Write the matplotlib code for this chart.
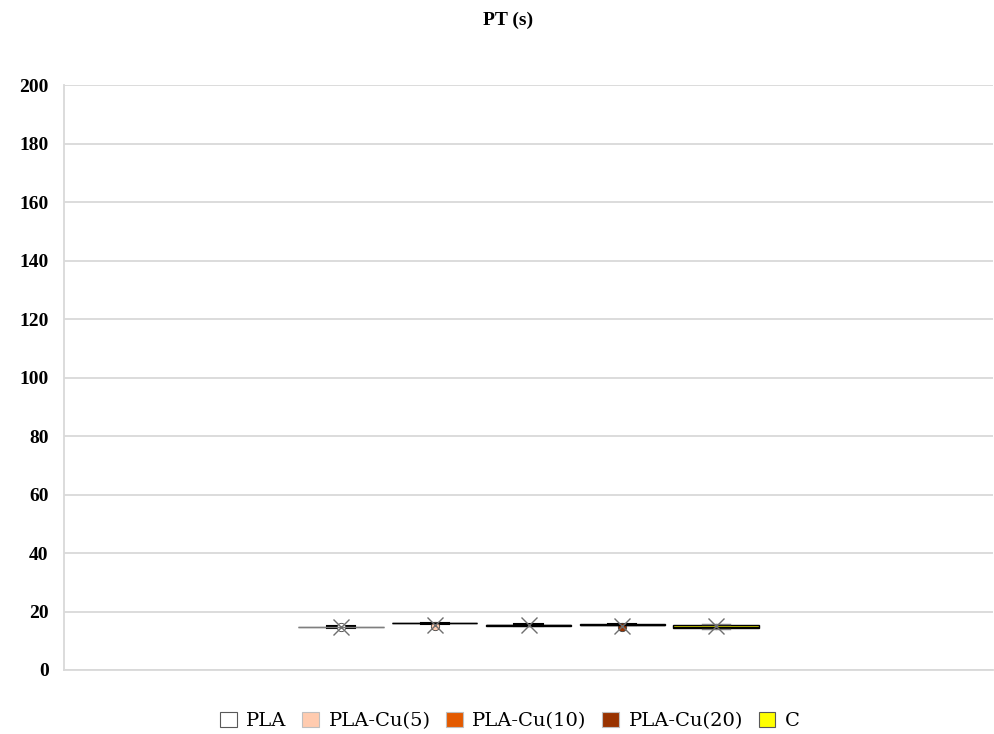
import matplotlib.pyplot as plt
from matplotlib.patches import Patch

plt.rcParams['font.family'] = ['Liberation Serif', 'DejaVu Serif']

# process time summaries per material (s)
groups = ['PLA', 'PLA-Cu(5)', 'PLA-Cu(10)', 'PLA-Cu(20)', 'C']
whislo = [14.5, 15.8, 15.2, 15.3, 14.1]
q1 = [14.6, 15.9, 15.2, 15.4, 14.2]
med = [14.7, 16.0, 15.4, 15.5, 14.8]
q3 = [14.8, 16.0, 15.5, 15.6, 15.5]
whishi = [14.9, 16.1, 15.6, 15.6, 15.8]
means = [14.8, 15.4, 15.4, 15.2, 15.0]
outliers = [[14.8], [15.0], [], [14.8], []]

fills = ['#ffffff', '#ffcbaf', '#e35a00', '#993300', '#ffff00']
edges = ['#7f7f7f', '#000000', '#000000', '#000000', '#000000']
legend_edges = ['#595959', '#bfbfbf', '#bfbfbf', '#bfbfbf', '#595959']

fig = plt.figure(figsize=(9.94, 7.34), dpi=100)
ax = fig.add_axes([0.0644, 0.0872, 0.9346, 0.7968])

positions = list(range(1, len(groups) + 1))
for i, pos in enumerate(positions):
    stats = [dict(label=groups[i], whislo=whislo[i], q1=q1[i], med=med[i],
                  q3=q3[i], whishi=whishi[i], mean=means[i], fliers=outliers[i])]
    ax.bxp(stats, positions=[pos], widths=0.91, capwidths=0.3,
           patch_artist=True, showmeans=True, manage_ticks=False,
           boxprops=dict(facecolor=fills[i], edgecolor=edges[i], linewidth=1),
           medianprops=dict(color=edges[i], linewidth=1),
           whiskerprops=dict(color=edges[i], linewidth=0.8),
           capprops=dict(color='#000000' if i < 4 else '#7f7f7f',
                         linewidth=1.5 if i < 4 else 1),
           meanprops=dict(marker='x', markersize=11, markeredgecolor='#6e6e6e',
                          markeredgewidth=1),
           flierprops=dict(marker='o', markersize=6, markerfacecolor=fills[i],
                           markeredgecolor='#404040', markeredgewidth=0.6))

ax.set_xlim(3 - 4.95, 3 + 4.95)
ax.set_ylim(0, 200)
ax.set_yticks(range(0, 201, 20))
ax.set_xticks([])
ax.grid(axis='y', color='#d9d9d9', linewidth=1.3)
ax.set_axisbelow(True)
ax.tick_params(axis='y', length=0, pad=11, labelsize=14)
for lab in ax.get_yticklabels():
    lab.set_fontweight('bold')
for side in ['top', 'right']:
    ax.spines[side].set_visible(False)
for side in ['left', 'bottom']:
    ax.spines[side].set_color('#d9d9d9')
    ax.spines[side].set_linewidth(1.3)

fig.text(0.511, 0.972, 'PT (s)', ha='center', va='center', fontsize=14, fontweight='bold')

handles = [Patch(facecolor=fills[i], edgecolor=legend_edges[i], linewidth=0.8)
           for i in range(len(groups))]
fig.legend(handles, groups, loc='center', bbox_to_anchor=(0.513, 0.018), ncol=5,
           frameon=False, prop=dict(family='DejaVu Serif', size=14),
           handlelength=0.85, handleheight=0.85, handletextpad=0.5, columnspacing=0.8)

fig.savefig('out.png', dpi=100)
